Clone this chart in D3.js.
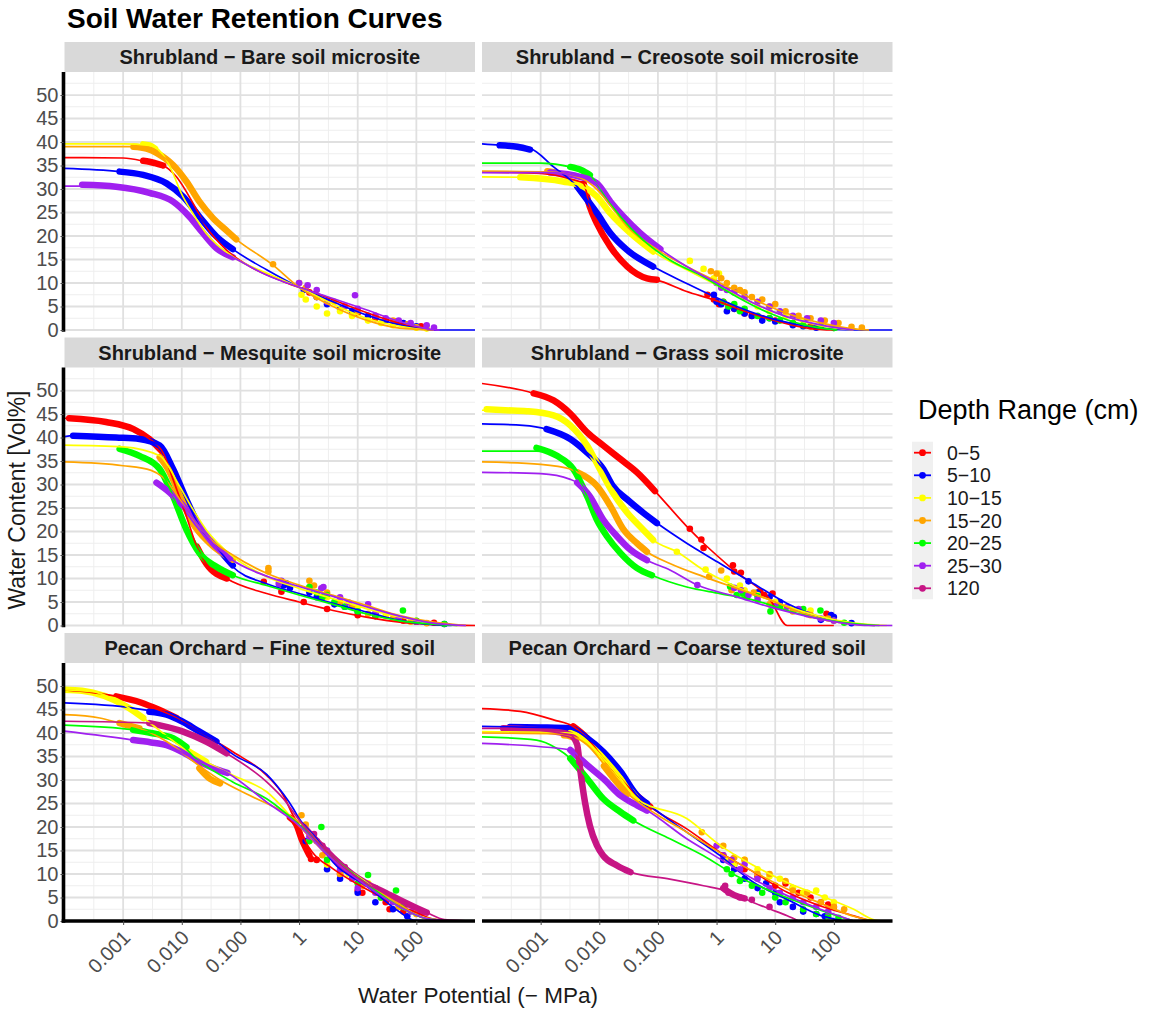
<!DOCTYPE html>
<html><head><meta charset="utf-8">
<script src="https://cdn.jsdelivr.net/npm/d3@7"></script>
<style>body{margin:0;background:#fff;} svg{display:block;font-family:"Liberation Sans",Arial,Helvetica,sans-serif;}</style>
</head><body><svg id="c" width="1156" height="1010"></svg>
<script>
// ---------------- data ----------------
const depths = ["0−5","5−10","10−15","15−20","20−25","25−30","120"];
const colors = ["#ff0000","#0000ff","#ffff00","#ffa500","#00ff00","#a020f0","#c71585"];
const panelTitles = ["Shrubland − Bare soil microsite","Shrubland − Creosote soil microsite",
  "Shrubland − Mesquite soil microsite","Shrubland − Grass soil microsite",
  "Pecan Orchard − Fine textured soil","Pecan Orchard − Coarse textured soil"];
const xTicks = [0.001,0.01,0.1,1,10,100];
const xTickLabels = ["0.001","0.010","0.100","1","10","100"];
const yTicks = [0,5,10,15,20,25,30,35,40,45,50];

// Panel 1: Bare
const fitBare = {
 "0−5":[[1e-4,36.7],[1e-3,36.6],[2.5e-3,35.8],[4.8e-3,35.0],[8.1e-3,32.6],[0.0155,27.0],[0.026,22.0],[0.058,17.0],[0.145,13.5],[0.54,10.3],[2.0,7.8],[7.4,5.0],[27,2.5],[100,0.5],[190,0]],
 "5−10":[[1e-4,34.4],[8.7e-4,33.7],[2.2e-3,33.0],[5.5e-3,31.2],[0.0105,28.4],[0.02,24.1],[0.039,19.9],[0.074,17.2],[0.28,12.8],[1,9.1],[3.8,6.0],[14,3.2],[52,1.1],[200,0],[1000,0]],
 "10−15":[[1e-4,39.6],[1e-3,39.6],[2.8e-3,39.3],[5.5e-3,36.2],[7.1e-3,33.3],[9.8e-3,29.1],[0.0155,24.8],[0.026,20.6],[0.074,15.6],[0.28,12.1],[1,9.1],[3.8,5.5],[14,2.5],[52,0.8],[150,0]],
 "15−20":[[1e-4,39.0],[1.5e-3,39.0],[3.7e-3,37.7],[7.1e-3,35.1],[0.012,31.6],[0.02,27.3],[0.034,23.8],[0.085,19.3],[0.36,13.8],[1.0,9.1],[3.8,5.0],[14,2.1],[52,0.4],[200,0]],
 "25−30":[[1e-4,30.6],[2e-4,30.6],[7.6e-4,30.4],[2.8e-3,29.2],[7.1e-3,27.3],[0.0135,24.1],[0.023,20.6],[0.039,17.4],[0.074,15.5],[0.28,11.7],[1,9.1],[3.8,6.7],[14,4.3],[52,1.8],[190,0.1],[250,0]]
};
const denseBare = {
 "0−5":[[[2.2e-3,36.0],[2.8e-3,35.8],[3.5e-3,35.5],[4.8e-3,35.0]]],
 "5−10":[[[8.7e-4,33.7],[2.2e-3,33.0],[5.5e-3,31.2],[0.0105,28.4],[0.02,24.1],[0.039,19.9],[0.074,17.2]]],
 "10−15":[[[2.2e-3,39.5],[2.8e-3,39.3],[3.5e-3,38.6]]],
 "15−20":[[[1.5e-3,39.0],[2.5e-3,38.6],[3.7e-3,37.7],[7.1e-3,35.1],[0.012,31.6],[0.02,27.3],[0.034,23.8],[0.06,21.0],[0.085,19.3]]],
 "25−30":[[[2e-4,30.9],[7.6e-4,30.5],[2.8e-3,29.2],[7.1e-3,27.3],[0.0135,24.1],[0.023,20.6],[0.039,17.4],[0.074,15.5]]]
};
const obsBare = {
 "0−5":[[1.5,8],[3,6],[10,3.6],[20,2.5],[45,1.8],[70,1.2],[120,0.8]],
 "5−10":[[1.2,8.5],[2,7],[3,5.5],[5,4.5],[8,4],[15,3],[30,2],[60,1.5],[100,0.8]],
 "10−15":[[1.1,7.5],[1.3,6.5],[2,5],[3,3.5],[5,4],[8,3],[15,2],[25,1.5],[40,1],[100,0.5],[150,0.3]],
 "15−20":[[0.36,14.0],[1,10],[1.3,9],[2,7],[4,6],[6,5],[10,4],[20,3],[40,2],[70,1.2],[100,0.6]],
 "25−30":[[1,10],[1.4,9.5],[2,8.5],[3,6],[9,7.4],[6,5],[10,4.5],[20,3],[30,2.5],[50,2],[80,1.5],[150,1],[200,0.5]]
};

// Panel 2: Creosote
const fitCreo = {
 "0−5":[[1e-4,33.6],[1e-3,33.3],[3.5e-3,32],[5.4e-3,31.2],[6.9e-3,26.2],[9.1e-3,22.7],[0.0155,17.7],[0.03,13.5],[0.065,11.0],[0.096,10.6],[0.31,8.2],[0.9,6.4],[3,4],[10,2],[40,0.3],[100,0]],
 "5−10":[[1e-4,39.6],[2e-4,39.3],[6.6e-4,38.6],[1.66e-3,34.7],[4.2e-3,30.5],[6.2e-3,27.7],[9.2e-3,24.8],[0.0155,20.6],[0.03,17.0],[0.083,13.5],[0.31,9.9],[0.69,7.8],[2.2,5.0],[10,2.2],[50,0.5],[200,0],[1000,0]],
 "10−15":[[1e-4,32.6],[4.5e-4,32.5],[2.4e-3,31.6],[5.4e-3,30.5],[9.1e-3,28.4],[0.0155,24.8],[0.034,20.6],[0.083,16.7],[0.31,12.8],[1.15,9.2],[4.3,5.7],[16,2.8],[59,0.9],[215,0]],
 "15−20":[[1e-4,33.8],[1.5e-3,33.6],[4.7e-3,32.4],[9e-3,30],[0.0155,26.5],[0.03,22],[0.1,17],[0.31,13.5],[1.15,10],[4.3,6.5],[16,3.5],[59,1.5],[200,0.3],[400,0]],
 "20−25":[[1e-4,35.5],[1e-3,35.5],[3.2e-3,34.7],[6.9e-3,33.0],[0.0117,29.1],[0.023,24.1],[0.056,19.1],[0.16,14.9],[0.6,11.3],[2.2,7.1],[8.3,3.5],[31,1.1],[115,0]],
 "25−30":[[1e-4,33.5],[1.45e-3,33.5],[4.7e-3,32.6],[9.1e-3,31.2],[0.0155,27.3],[0.026,24.1],[0.05,20.6],[0.11,17.2],[0.31,13.5],[1.15,9.6],[4.3,5.7],[16,2.8],[59,1.1],[215,0]]
};
const denseCreo = {
 "0−5":[[[5.4e-3,31.2],[6.9e-3,26.2],[9.1e-3,22.7],[0.0155,17.7],[0.03,13.5],[0.065,11.0],[0.096,10.7]]],
 "5−10":[[[2e-4,39.3],[4e-4,39.0],[6.6e-4,38.4]],[[4.2e-3,30.5],[6.2e-3,27.7],[9.2e-3,24.8],[0.0155,20.6],[0.03,17.0],[0.083,13.5]]],
 "10−15":[[[4.5e-4,32.5],[2.4e-3,31.6],[5.4e-3,30.5],[9.1e-3,28.4],[0.0155,24.8],[0.034,20.6],[0.083,16.7]]],
 "15−20":[[[1.3e-3,33.8],[1.7e-3,33.6]]],
 "20−25":[[[3.2e-3,34.7],[5e-3,34.0],[6.9e-3,33.0]]],
 "25−30":[[[1.45e-3,33.5],[4.7e-3,32.6],[9.1e-3,31.2],[0.0155,27.3],[0.026,24.1],[0.05,20.6],[0.11,17.2]]]
};
const obsCreo = {
 "0−5":[[0.7,7.5],[0.9,6.5],[1.1,5.5],[1.3,6],[1.6,5],[2,4.5],[3,3.5],[4,3],[6,2.5],[10,2],[20,1.5],[40,0.8]],
 "5−10":[[0.9,7.5],[1.0,6],[1.2,5.5],[1.5,4],[2,4.5],[3,3.5],[4,3],[6,2],[8,2.5],[10,1.8],[20,1],[30,0.8],[50,0.5]],
 "10−15":[[0.35,14.7],[0.6,13],[0.9,11],[1.1,12],[1.4,9],[2,8],[3,7],[5,5],[8,4],[15,3],[30,2],[60,1.2]],
 "15−20":[[0.8,12.5],[1,12],[1.2,11],[1.5,10],[2,9],[2.5,8.5],[3,8],[4,7],[6,6.5],[8,5],[10,5.5],[15,4],[25,3],[40,2.5],[70,2],[120,1.5],[200,0.7],[300,0.5]],
 "20−25":[[1.3,6],[1.6,5],[2,5.5],[2.5,4],[3,4.5],[5,3],[8,2.5],[12,2],[20,1.5],[30,1],[60,0.7],[100,0.4]],
 "25−30":[[1.0,10],[1.2,9],[1.5,8.5],[2,8],[3,7],[5,6],[8,5],[12,4],[20,3],[35,2.5],[60,2],[100,1.5]]
};

// Panel 3: Mesquite
const fitMesq = {
 "0−5":[[1e-4,44.1],[5.1e-4,43.3],[1.5e-3,41.8],[2.8e-3,39.7],[4.8e-3,36.8],[7.1e-3,31.1],[0.012,23.2],[0.018,16.8],[0.026,13.2],[0.058,10.0],[0.28,6.8],[1.0,5.0],[3.8,3.2],[14,1.8],[52,0.7],[195,0.2],[1000,0]],
 "5−10":[[1e-4,40.2],[1.4e-4,40.4],[7.6e-4,40.1],[1.9e-3,39.7],[4.2e-3,38.3],[7.1e-3,33.3],[0.012,26.8],[0.02,21.1],[0.039,16.8],[0.074,12.5],[0.28,8.9],[1.0,6.8],[3.8,4.7],[14,2.9],[52,1.1],[195,0.2],[400,0]],
 "10−15":[[1e-4,38.4],[1e-3,38.0],[4.2e-3,36.1],[9.1e-3,29.7],[0.0155,24.7],[0.026,20.4],[0.074,14.7],[0.28,10.4],[1.0,7.9],[3.8,5.7],[14,3.6],[52,1.8],[195,0.5],[500,0]],
 "15−20":[[1e-4,34.8],[1e-3,34.0],[3e-3,33],[4.8e-3,31.5],[8e-3,28],[0.015,23],[0.03,18.5],[0.074,15.0],[0.28,11.1],[1.0,8.6],[3.8,6.4],[14,4.3],[52,2.1],[195,0.7],[700,0]],
 "20−25":[[8.7e-4,37.6],[1.9e-3,36.1],[4.2e-3,33.3],[7.1e-3,27.5],[0.012,20.4],[0.02,15.4],[0.039,12.5],[0.074,10.7],[0.28,8.5],[1,6.5],[3.8,4.5],[14,2.5],[52,1],[195,0.3],[500,0]],
 "25−30":[[3.7e-3,30.4],[6.2e-3,28.3],[0.012,24.7],[0.02,21.1],[0.034,17.5],[0.066,14.3],[0.28,10.5],[1,8.3],[3.8,6.2],[14,4.0],[52,2.0],[195,0.5],[700,0]]
};
const denseMesq = {
 "0−5":[[[1.2e-4,44.1],[5.1e-4,43.3],[1.5e-3,41.8],[2.8e-3,39.7],[4.8e-3,36.8]],[[0.018,16.8],[0.026,13.2],[0.058,10.0]]],
 "5−10":[[[1.4e-4,40.4],[7.6e-4,40.0],[1.9e-3,39.7],[4.2e-3,38.3],[7.1e-3,33.3],[0.012,26.8],[0.02,21.1],[0.039,16.8],[0.074,12.8]]],
 "15−20":[[[4.2e-3,35.8],[6e-3,33],[9e-3,28],[0.015,22],[0.03,17.5],[0.074,14.0]]],
 "20−25":[[[8.7e-4,37.6],[1.9e-3,36.1],[4.2e-3,33.3],[7.1e-3,27.5],[0.012,20.4],[0.02,15.4],[0.039,12.5],[0.074,10.7]]],
 "25−30":[[[3.7e-3,30.4],[6.2e-3,28.3],[0.012,24.7],[0.02,21.1],[0.034,17.5],[0.066,14.3]]]
};
const obsMesq = {
 "0−5":[[0.25,9.3],[0.5,7.2],[0.5,8.8],[1.2,5.0],[3.0,3.5],[10,2.2],[20,2.0],[60,1.0],[200,0.6]],
 "5−10":[[0.55,8.5],[0.6,9],[0.7,8],[1.5,7],[2,6],[4,4.5],[6,4],[10,3],[20,2.5],[50,1.5],[100,0.8],[300,0.3]],
 "10−15":[[1.5,8],[3,6],[10,4],[30,2],[100,1]],
 "15−20":[[0.3,12.2],[0.3,11.5],[1.5,9.5],[1.8,8.5],[3,7],[5,5],[8,4],[15,2.5],[40,1.5],[80,0.8],[150,0.5]],
 "20−25":[[1.5,8.2],[2,7],[2.5,6],[3,6.5],[4,5],[6,4],[10,3],[20,2],[59,3.2],[100,1],[300,0.3]],
 "25−30":[[0.45,8.9],[0.5,9.5],[2.4,7.9],[2.6,8.2],[5,6.0],[7,4.9],[15,4.5],[20,2.5],[50,1.5],[100,0.8]]
};

// Panel 4: Grass
const fitGrass = {
 "0−5":[[1e-4,51.5],[7.6e-4,49.4],[1.66e-3,47.9],[3.2e-3,45.1],[6.2e-3,41.1],[0.0117,38.3],[0.023,35.4],[0.044,32.6],[0.089,28.6],[0.35,20.4],[0.6,17.5],[1.95,11.8],[8.3,5.4],[16,0],[100,0]],
 "5−10":[[1e-4,42.9],[5e-4,42.6],[1.26e-3,41.8],[3.2e-3,39.7],[6.2e-3,36.8],[0.0117,33.3],[0.017,29.7],[0.03,26.8],[0.056,24.0],[0.096,21.8],[0.31,17.5],[1.15,13.2],[4.3,8.9],[16,4.7],[59,1.8],[218,0.4],[500,0]],
 "10−15":[[1e-4,45.8],[5.8e-4,45.6],[1.66e-3,44.7],[3.2e-3,42.6],[6.2e-3,38.3],[0.0102,33.3],[0.017,28.3],[0.03,24.0],[0.056,20.4],[0.083,18.2],[0.21,15.7],[0.6,11.8],[2.2,8.2],[8.3,5.4],[31,2.9],[115,1.1],[420,0.2],[800,0]],
 "15−20":[[1e-4,34.8],[1e-3,34.3],[3.2e-3,33.3],[4.2e-3,32.6],[9.1e-3,29.7],[0.0155,25.4],[0.026,20.4],[0.044,17.5],[0.065,15.7],[0.16,13.2],[0.6,10.4],[2.2,7.9],[8.3,5.4],[31,2.5],[115,0.7],[500,0]],
 "20−25":[[1e-4,37.1],[8.5e-4,37.1],[1.9e-3,36.1],[3.6e-3,33.3],[6.2e-3,27.5],[9.1e-3,22.5],[0.0135,19.0],[0.023,15.4],[0.044,12.2],[0.079,10.7],[0.31,8.2],[1.15,6.8],[4.3,5.4],[16,3.2],[59,1.4],[218,0.4],[600,0]],
 "25−30":[[1e-4,32.6],[1e-3,32.3],[3.2e-3,31.1],[4.2e-3,30.4],[6.9e-3,27.5],[0.0117,22.5],[0.02,19.0],[0.034,16.1],[0.065,13.9],[0.16,11.8],[0.47,8.6],[2.2,6.1],[8.3,3.9],[31,2.1],[115,0.7],[420,0],[1000,0]]
};
const denseGrass = {
 "0−5":[[[7.6e-4,49.4],[1.66e-3,47.9],[3.2e-3,45.1],[6.2e-3,41.1],[0.0117,38.3],[0.023,35.4],[0.044,32.6],[0.089,28.6]]],
 "5−10":[[[1.26e-3,41.8],[3.2e-3,39.7],[6.2e-3,36.8],[0.0117,33.3],[0.017,29.7],[0.03,26.8],[0.056,24.0],[0.096,21.8]]],
 "10−15":[[[1.2e-4,46.0],[2.5e-4,45.8],[5.8e-4,45.6],[1.66e-3,44.7],[3.2e-3,42.6],[6.2e-3,38.3],[0.0102,33.3],[0.017,28.3],[0.03,24.0],[0.056,20.4],[0.083,18.2]]],
 "15−20":[[[4.2e-3,32.6],[9.1e-3,29.7],[0.0155,25.4],[0.026,20.4],[0.044,17.5],[0.065,15.7]]],
 "20−25":[[[8.5e-4,37.8],[1.9e-3,36.1],[3.6e-3,33.3],[6.2e-3,27.5],[9.1e-3,22.5],[0.0135,19.0],[0.023,15.4],[0.044,12.2],[0.079,10.7]]],
 "25−30":[[[4.2e-3,30.4],[6.9e-3,27.5],[0.0117,22.5],[0.02,19.0],[0.034,16.1],[0.065,13.9]]]
};
const obsGrass = {
 "0−5":[[0.35,20.6],[0.55,18.3],[0.6,16.5],[1.9,12.8],[2.0,11.5],[2.6,11.2],[5.5,7.2],[9,6.8],[6.5,6.5],[75,2.5]],
 "5−10":[[3.5,9.4],[5,7],[8,6],[12,5],[90,2.2],[100,1.8],[60,1.2],[200,0.5]],
 "10−15":[[0.21,15.7],[0.65,11.9],[1.5,10],[2.5,8.5],[3,7.5],[5,6.5],[10,5],[15,4],[20,3.5],[30,3],[40,3.2],[100,1]],
 "15−20":[[0.75,10.4],[1.2,11.7],[1.8,7.5],[3,6.5],[4.3,7],[8,4.5],[20,3.0],[40,2.2],[80,1.5]],
 "20−25":[[1.7,8.3],[2.2,6.5],[2.8,6.8],[3.3,6.0],[5,6.2],[8.3,3.0],[12,4],[30,3.5],[59,3.2],[150,0.6]],
 "25−30":[[0.47,8.6],[2.0,8.0],[2.6,7.5],[3.5,6.5],[5,5.5],[10,4.2],[16,4.0],[25,3.5],[35,2.4],[60,1.5],[100,1.0]]
};

// Panel 5: Pecan fine
const fitFine = {
 "0−5":[[1e-4,49.2],[7.6e-4,47.8],[8.1e-3,43.2],[0.02,40.3],[0.074,36.0],[0.28,31.0],[0.54,26.7],[0.79,22.5],[1.0,20.3],[1.3,16.8],[1.7,14.6],[3.8,11.1],[14,6.8],[52,3.2],[100,1.8],[195,0.4],[400,0]],
 "5−10":[[1e-4,46.4],[1.48e-3,45.3],[5.5e-3,43.9],[0.02,40.3],[0.039,38.2],[0.074,35.5],[0.28,31.2],[0.54,27.0],[0.79,24.0],[1.0,21.8],[2.0,17.5],[3.8,12.5],[14,7.5],[52,1.9],[89,0.2],[200,0]],
 "10−15":[[1e-4,49.2],[3e-4,48.8],[1.12e-3,45.7],[2.2e-3,43.2],[0.0105,36.8],[0.026,33.9],[0.074,31.0],[0.28,27.5],[1,20.3],[3.8,13.2],[14,8.2],[52,3.0],[132,0.8],[400,0]],
 "15−20":[[1e-4,43.9],[4e-4,43.2],[8.7e-4,42.1],[1.9e-3,41.0],[5.5e-3,38.2],[0.02,33.0],[0.045,30.0],[0.145,26.7],[0.54,23.2],[1.0,21.1],[3.8,13.2],[14,8.0],[52,3.5],[150,0.4],[400,0]],
 "20−25":[[1e-4,41.7],[1.48e-3,40.7],[7.1e-3,38.9],[0.02,33.9],[0.074,29.6],[0.28,26.0],[1,20.5],[3.8,13.5],[14,8.0],[52,3.0],[150,0.5],[400,0]],
 "25−30":[[1e-4,40.4],[1.48e-3,38.5],[5.5e-3,37.4],[0.02,33.9],[0.06,31.5],[0.28,25.3],[1,20.3],[3.8,13],[14,7.5],[52,3.0],[150,0.5],[400,0]],
 "120":[[1e-4,42.5],[2.8e-3,42.1],[0.0105,40.3],[0.026,38.2],[0.058,35.7],[0.28,29.6],[0.54,26.0],[1,21.5],[3.8,13.5],[14,8.0],[52,4.5],[150,1.8],[300,0.3],[1000,0]]
};
const denseFine = {
 "0−5":[[[7.6e-4,47.8],[2e-3,46.5],[4e-3,45],[8.1e-3,43.2]],[[0.7,22],[0.9,20.5],[1.1,17.5],[1.3,15.5],[1.5,14]]],
 "5−10":[[[2.8e-3,44.5],[5.5e-3,43.9],[0.01,42.5],[0.02,40.3],[0.039,38.2]]],
 "10−15":[[[1e-4,49.2],[2e-4,49.0],[1.12e-3,45.7],[2.2e-3,43.2]],[[0.0105,36.8],[0.026,33.9]]],
 "15−20":[[[8.7e-4,42.1],[1.9e-3,41.0]],[[0.02,32.5],[0.03,30.3],[0.045,29.3]]],
 "20−25":[[[1.48e-3,40.7],[3e-3,40],[7.1e-3,38.9],[0.012,37]]],
 "25−30":[[[1.48e-3,38.5],[3e-3,38],[5.5e-3,37.4],[0.01,36],[0.02,33.9],[0.035,32.5],[0.06,31.5]]],
 "120":[[[2.8e-3,42.1],[0.0105,40.3],[0.026,38.2],[0.058,35.7]],[[1.2,20],[2,17],[3.8,13.5],[8,10],[14,8],[30,6],[52,4.5],[100,2.8],[150,1.8]]]
};
const obsFine = {
 "0−5":[[1.6,13.2],[2,13],[5,10],[10,6.5],[12,6],[30,4],[35,2.5],[60,2]],
 "5−10":[[1.3,17],[3,11],[5,9],[10,6],[20,4],[40,2.5],[70,1]],
 "10−15":[[1.5,17],[3,12],[7,10],[15,8],[25,5],[50,4],[100,2]],
 "15−20":[[1.1,22.5],[1.3,20.5],[2.5,14],[5,10],[12,7.5],[25,5],[50,3],[100,1.5]],
 "20−25":[[2.4,20.0],[1.5,17],[3,13],[4.5,12.5],[6,11],[15,9.8],[10,8],[25,5],[45,6.5],[60,3]],
 "25−30":[[1.5,18],[2,17],[3,15],[5,11],[8,9],[10,7],[20,6],[40,4],[80,2],[120,1.5]],
 "120":[[1.8,18.5],[2.5,16],[6,11.5],[20,7],[70,3.5]]
};

// Panel 6: Pecan coarse
const fitCoarse = {
 "0−5":[[1e-4,45.2],[4.5e-4,44.6],[1.66e-3,42.8],[3.6e-3,41.4],[6.2e-3,38.9],[0.0117,34.6],[0.023,30.3],[0.044,26.7],[0.074,24.3],[0.31,19.6],[1.15,14.6],[4.3,10.4],[16,6.1],[59,3.2],[218,1.1],[420,0]],
 "5−10":[[1e-4,41.4],[3e-4,41.3],[3.2e-3,41.0],[6.2e-3,38.9],[0.0117,36.0],[0.023,31.8],[0.044,26.7],[0.065,25.0],[0.31,18.9],[1.15,13.9],[4.3,8.2],[16,4.6],[59,1.2],[150,0]],
 "10−15":[[1e-4,40.3],[3.2e-3,40.0],[6.2e-3,38.2],[0.0117,34.6],[0.023,30.3],[0.044,26.0],[0.31,21.8],[1.15,16.1],[4.3,11.8],[16,8.2],[59,5.4],[218,2.5],[500,0.2],[700,0]],
 "15−20":[[1e-4,40.0],[2e-3,39.8],[4e-3,39],[6.2e-3,37.5],[0.0117,33.5],[0.023,28.5],[0.044,25.5],[0.1,22.5],[0.31,18.9],[1.15,14.5],[4.3,10.5],[16,6.8],[59,3.8],[218,1.0],[500,0]],
 "20−25":[[1e-4,39.2],[8.5e-4,38.5],[1.9e-3,36.7],[3.2e-3,34.6],[6.2e-3,30.3],[0.0117,26.0],[0.023,23.2],[0.038,21.4],[0.16,17.5],[0.6,13.9],[2.2,9.6],[8.3,6.4],[31,3.6],[115,1.1],[218,0]],
 "25−30":[[1e-4,37.8],[3.2e-3,36.4],[6.2e-3,33.2],[0.0117,30.3],[0.023,26.7],[0.044,24.6],[0.065,23.5],[0.31,17.5],[1.15,13.2],[4.3,8.9],[16,5.4],[59,2.5],[218,0]],
 "120":[[1e-4,41.0],[2.3e-4,41.0],[3.2e-3,39.6],[4.2e-3,37.5],[4.7e-3,32.5],[5.7e-3,25.3],[6.9e-3,20.3],[9.1e-3,16.1],[0.0117,13.9],[0.02,11.8],[0.034,10.4],[0.16,8.9],[0.6,7.5],[1.5,6.4],[4.3,3.9],[8.3,2.5],[16,1.1],[25,0]]
};
const denseCoarse = {
 "0−5":[[[3.6e-3,41.4],[6.2e-3,38.9],[0.0117,34.6],[0.023,30.3],[0.044,26.7],[0.074,24.3]]],
 "5−10":[[[3e-4,41.3],[1e-3,41.2],[3.2e-3,41.0],[6.2e-3,38.9],[0.0117,36.0],[0.023,31.8],[0.044,26.7],[0.065,25.0]]],
 "10−15":[[[3.2e-3,40.0],[6.2e-3,38.2],[0.0117,34.6],[0.023,30.3],[0.044,26.0]]],
 "15−20":[[[2.5e-3,39.5],[3.2e-3,39.3],[4e-3,38.8]],[[0.012,33],[0.02,29.5],[0.03,27]]],
 "20−25":[[[3.2e-3,34.6],[6.2e-3,30.3],[0.0117,26.0],[0.023,23.2],[0.038,21.4]]],
 "25−30":[[[3.2e-3,36.4],[6.2e-3,33.2],[0.0117,30.3],[0.023,26.7],[0.044,24.6],[0.065,23.5]]],
 "120":[[[2.3e-4,41.0],[1e-3,40.6],[3.2e-3,39.6],[4.2e-3,37.5],[4.7e-3,32.5],[5.7e-3,25.3],[6.9e-3,20.3],[9.1e-3,16.1],[0.0117,13.9],[0.02,11.8],[0.034,10.4]],[[1.3,7],[1.5,6.4],[2,5.5],[3,4.8]]]
};
const obsCoarse = {
 "0−5":[[1.3,14],[2,12],[3,11],[5,9.5],[10,7.5],[15,8],[20,7],[25,6],[40,5],[60,4],[80,3.5],[100,3]],
 "5−10":[[1.3,13],[2,11],[3,9],[5,7],[7,8],[10,6],[12,4],[20,3],[30,2],[50,1.5],[70,1]],
 "10−15":[[1.5,13],[2,12],[3,13],[5,11],[8,9.5],[12,9],[20,7],[30,6],[50,6.5],[70,5],[100,4]],
 "15−20":[[0.56,18.9],[1.3,16],[2,13.5],[3,13],[5,10],[8,10],[15,8.5],[20,6.5],[35,6],[60,4],[100,3],[150,2.5]],
 "20−25":[[1.5,11],[1.8,10],[2.5,8.5],[4,7.5],[6,6],[10,5],[15,4],[30,2.5],[50,1.5],[80,1],[120,0.7]],
 "25−30":[[1.0,16],[1.3,14],[1.8,13],[2.5,11],[3,12],[5,9],[8,7],[12,6],[20,5],[30,4],[50,3],[80,2]],
 "120":[[1.4,7.5],[1.6,6],[2.5,5],[4,4.5],[8,3]]
};

const panelFits = [fitBare, fitCreo, fitMesq, fitGrass, fitFine, fitCoarse];
const panelDense = [denseBare, denseCreo, denseMesq, denseGrass, denseFine, denseCoarse];
const panelObs = [obsBare, obsCreo, obsMesq, obsGrass, obsFine, obsCoarse];

// ---------------- layout ----------------
const ROW0 = 42, PITCH = 295.5, STRIP_H = 30, PLOT_H = 258;
const COLX = [64.5, 482], COL_W = 410.5;
const svg = d3.select("#c");
svg.append("rect").attr("width",1156).attr("height",1010).attr("fill","#fff");
const defs = svg.append("defs");

panelTitles.forEach((title, i) => {
  const c = i % 2, r = Math.floor(i / 2);
  const x0 = COLX[c], top = ROW0 + r * PITCH;
  const pTop = top + STRIP_H, pBot = pTop + PLOT_H;
  const x = d3.scaleLog().domain([1e-4, 1e3]).range([x0, x0 + COL_W]);
  const y = d3.scaleLinear().domain([0, 54.9]).range([pBot, pTop]);
  const g = svg.append("g");

  // strip
  g.append("rect").attr("x", x0).attr("y", top).attr("width", COL_W).attr("height", STRIP_H).attr("fill", "#d9d9d9");
  g.append("text").attr("x", x0 + COL_W / 2).attr("y", top + STRIP_H / 2).attr("dy", "0.36em")
    .attr("text-anchor", "middle").attr("font-weight", "bold").attr("font-size", 20).attr("fill", "#1a1a1a").text(title);

  // grid
  const grid = g.append("g");
  const yMinor = d3.range(2.5, 54, 5);
  const xMinor = d3.range(-3.5, 3, 1).map(e => Math.pow(10, e));
  yMinor.forEach(v => grid.append("line").attr("x1", x0).attr("x2", x0 + COL_W).attr("y1", y(v)).attr("y2", y(v)).attr("stroke", "#eeeeee").attr("stroke-width", 1));
  xMinor.forEach(v => grid.append("line").attr("x1", x(v)).attr("x2", x(v)).attr("y1", pTop).attr("y2", pBot).attr("stroke", "#eeeeee").attr("stroke-width", 1));
  yTicks.forEach(v => grid.append("line").attr("x1", x0).attr("x2", x0 + COL_W).attr("y1", y(v)).attr("y2", y(v)).attr("stroke", "#e0e0e0").attr("stroke-width", 1.8));
  xTicks.forEach(v => grid.append("line").attr("x1", x(v)).attr("x2", x(v)).attr("y1", pTop).attr("y2", pBot).attr("stroke", "#e0e0e0").attr("stroke-width", 1.8));

  // clip
  defs.append("clipPath").attr("id", "clip" + i).append("rect").attr("x", x0).attr("y", pTop).attr("width", COL_W).attr("height", PLOT_H + 2);
  const dg = g.append("g").attr("clip-path", `url(#clip${i})`);
  const line = d3.line().x(q => x(q[0])).y(q => y(q[1])).curve(d3.curveMonotoneX);

  // measured points (dense runs + scattered)
  depths.forEach((d, k) => {
    (panelDense[i][d] || []).forEach(seg => {
      dg.append("path").attr("d", line(seg)).attr("fill", "none").attr("stroke", colors[k])
        .attr("stroke-width", 6.5).attr("stroke-linecap", "round").attr("stroke-linejoin", "round");
    });
    dg.selectAll(null).data(panelObs[i][d] || []).enter().append("circle")
      .attr("cx", q => x(q[0])).attr("cy", q => y(q[1])).attr("r", 3.3).attr("fill", colors[k]);
  });
  // fitted curves
  depths.forEach((d, k) => {
    const f = panelFits[i][d];
    if (!f) return;
    dg.append("path").attr("d", line(f)).attr("fill", "none").attr("stroke", colors[k]).attr("stroke-width", 1.7);
  });

  // axes
  if (c === 0) {
    const ay = g.append("g").attr("transform", `translate(${x0 - 1},0)`)
      .call(d3.axisLeft(y).tickValues(yTicks).tickSize(3).tickSizeOuter(0).tickPadding(2));
    ay.select(".domain").attr("stroke", "#000").attr("stroke-width", 3.6).attr("d", `M0,${pTop}V${pBot + 1.8}`);
    ay.selectAll(".tick line").attr("stroke", "#4d4d4d");
    ay.selectAll(".tick text").attr("font-size", 20).attr("fill", "#4d4d4d").attr("font-family", "Liberation Sans, Arial, sans-serif");
  }
  if (r === 2) {
    const ax = g.append("g").attr("transform", `translate(0,${pBot})`)
      .call(d3.axisBottom(x).tickValues(xTicks).tickFormat((v, j) => xTickLabels[j]).tickSize(4).tickSizeOuter(0));
    ax.select(".domain").attr("stroke", "#000").attr("stroke-width", 3.6).attr("d", `M${x0 - (c === 0 ? 2.8 : 0)},0H${x0 + COL_W}`);
    ax.selectAll(".tick line").attr("stroke", "#4d4d4d");
    ax.selectAll(".tick text").attr("font-size", 20).attr("fill", "#4d4d4d").attr("font-family", "Liberation Sans, Arial, sans-serif")
      .attr("text-anchor", "end").attr("x", 0).attr("y", 0).attr("dy", 0)
      .attr("transform", "translate(8,18) rotate(-45)");
  }
});

// titles
svg.append("text").attr("x", 67).attr("y", 28).attr("font-size", 28).attr("font-weight", "bold").attr("fill", "#000").text("Soil Water Retention Curves");
svg.append("text").attr("x", 478).attr("y", 1003).attr("text-anchor", "middle").attr("font-size", 22.5).attr("fill", "#1a1a1a").text("Water Potential (− MPa)");
svg.append("text").attr("transform", "translate(25,500) rotate(-90)").attr("text-anchor", "middle").attr("font-size", 23).attr("fill", "#1a1a1a").text("Water Content [Vol%]");

// legend
const lg = svg.append("g");
const LG_Y0 = 452.7, LG_STEP = 22.6;
lg.append("text").attr("x", 918).attr("y", 419).attr("font-size", 27).attr("fill", "#000").text("Depth Range (cm)");
lg.append("rect").attr("x", 912).attr("y", LG_Y0 - 11).attr("width", 21).attr("height", LG_STEP * 6 + 22).attr("fill", "#f0f0f0");
depths.forEach((d, k) => {
  const yy = LG_Y0 + k * LG_STEP;
  lg.append("line").attr("x1", 914).attr("x2", 931).attr("y1", yy).attr("y2", yy).attr("stroke", colors[k]).attr("stroke-width", 1.8);
  lg.append("circle").attr("cx", 922.5).attr("cy", yy).attr("r", 3.4).attr("fill", colors[k]);
  lg.append("text").attr("x", 947).attr("y", yy).attr("dy", "0.36em").attr("font-size", 19.5).attr("fill", "#1a1a1a").text(d);
});
</script></body></html>
